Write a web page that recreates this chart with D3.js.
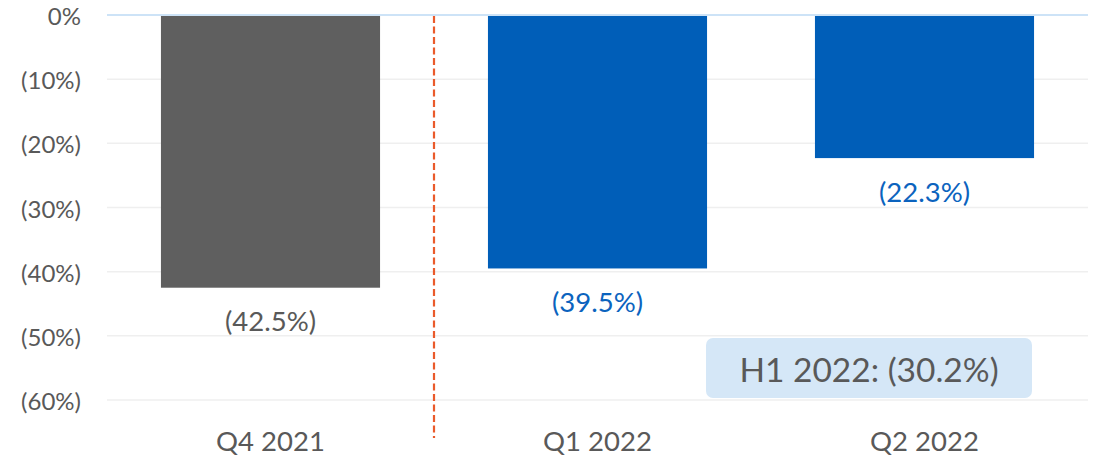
<!DOCTYPE html>
<html>
<head>
<meta charset="utf-8">
<script src="https://cdn.jsdelivr.net/npm/d3@7"></script>
<style>
  html, body { margin: 0; padding: 0; background: #ffffff; }
  svg { display: block; }
</style>
</head>
<body>
<svg id="chart" width="1094" height="458"></svg>
<script>
// Quarterly change, shown as negative percentages
const categories = ["Q4 2021", "Q1 2022", "Q2 2022"];
const values = [-42.5, -39.5, -22.3];
const valueLabels = ["(42.5%)", "(39.5%)", "(22.3%)"];
const barColors = ["#5f5f5f", "#005eb8", "#005eb8"];
const labelColors = ["#595959", "#0b63be", "#0b63be"];
const yTicks = [0, -10, -20, -30, -40, -50, -60];
const yTickLabels = ["0%", "(10%)", "(20%)", "(30%)", "(40%)", "(50%)", "(60%)"];
const summaryText = "H1 2022: (30.2%)";

const font = "Lato, 'Open Sans', sans-serif";
const svg = d3.select("#chart");

const plotLeft = 107, plotRight = 1088, plotTop = 15, plotBottom = 400;

const x = d3.scaleBand()
  .domain(categories)
  .range([plotLeft, plotRight])
  .paddingInner(0.33)
  .paddingOuter(0.165);

const y = d3.scaleLinear()
  .domain([0, -60])
  .range([plotTop, plotBottom]);

// Horizontal gridlines
svg.append("g")
  .selectAll("line")
  .data(yTicks.filter(d => d !== 0))
  .join("line")
  .attr("x1", plotLeft).attr("x2", plotRight)
  .attr("y1", d => y(d)).attr("y2", d => y(d))
  .attr("stroke", "#efefef")
  .attr("stroke-width", 1.5);

// Y axis labels
const yAxis = d3.axisLeft(y)
  .tickValues(yTicks)
  .tickFormat((d, i) => yTickLabels[i])
  .tickSize(0)
  .tickPadding(0);

const yg = svg.append("g")
  .attr("transform", `translate(81,0)`)
  .call(yAxis);
yg.select(".domain").remove();
yg.selectAll("text")
  .attr("fill", "#595959")
  .attr("dy", null)
  .attr("dominant-baseline", "central")
  .style("font-family", font)
  .style("font-size", "24px");

// Bars
svg.append("g")
  .selectAll("rect")
  .data(values)
  .join("rect")
  .attr("x", (d, i) => x(categories[i]))
  .attr("width", x.bandwidth())
  .attr("y", y(0))
  .attr("height", d => y(d) - y(0))
  .attr("fill", (d, i) => barColors[i]);

// Zero baseline
svg.append("line")
  .attr("x1", plotLeft).attr("x2", plotRight)
  .attr("y1", y(0)).attr("y2", y(0))
  .attr("stroke", "#cde3f7")
  .attr("stroke-width", 2);

// Divider between the prior year and the current year
const divX = (x(categories[0]) + x.bandwidth() + x(categories[1])) / 2;
svg.append("line")
  .attr("x1", divX).attr("x2", divX)
  .attr("y1", y(0) + 1).attr("y2", 438)
  .attr("stroke", "#ea5a2b")
  .attr("stroke-width", 2.2)
  .attr("stroke-dasharray", "7,3.5");

// Value labels under each bar
svg.append("g")
  .selectAll("text")
  .data(values)
  .join("text")
  .attr("x", (d, i) => x(categories[i]) + x.bandwidth() / 2)
  .attr("y", d => y(d) + 33)
  .attr("text-anchor", "middle")
  .attr("dominant-baseline", "central")
  .attr("fill", (d, i) => labelColors[i])
  .style("font-family", font)
  .style("font-size", "27.5px")
  .text((d, i) => valueLabels[i]);

// Category labels
svg.append("g")
  .selectAll("text")
  .data(categories)
  .join("text")
  .attr("x", d => x(d) + x.bandwidth() / 2)
  .attr("y", 440)
  .attr("text-anchor", "middle")
  .attr("dominant-baseline", "central")
  .attr("fill", "#595959")
  .style("font-family", font)
  .style("font-size", "27.5px")
  .text(d => d);

// Half-year summary box
const box = svg.append("g");
box.append("rect")
  .attr("x", 706).attr("y", 338)
  .attr("width", 326).attr("height", 60)
  .attr("rx", 7).attr("ry", 7)
  .attr("fill", "#d5e7f7");
box.append("text")
  .attr("x", 869).attr("y", 369)
  .attr("text-anchor", "middle")
  .attr("dominant-baseline", "central")
  .attr("fill", "#595959")
  .style("font-family", font)
  .style("font-size", "33.5px")
  .text(summaryText);
</script>
</body>
</html>
